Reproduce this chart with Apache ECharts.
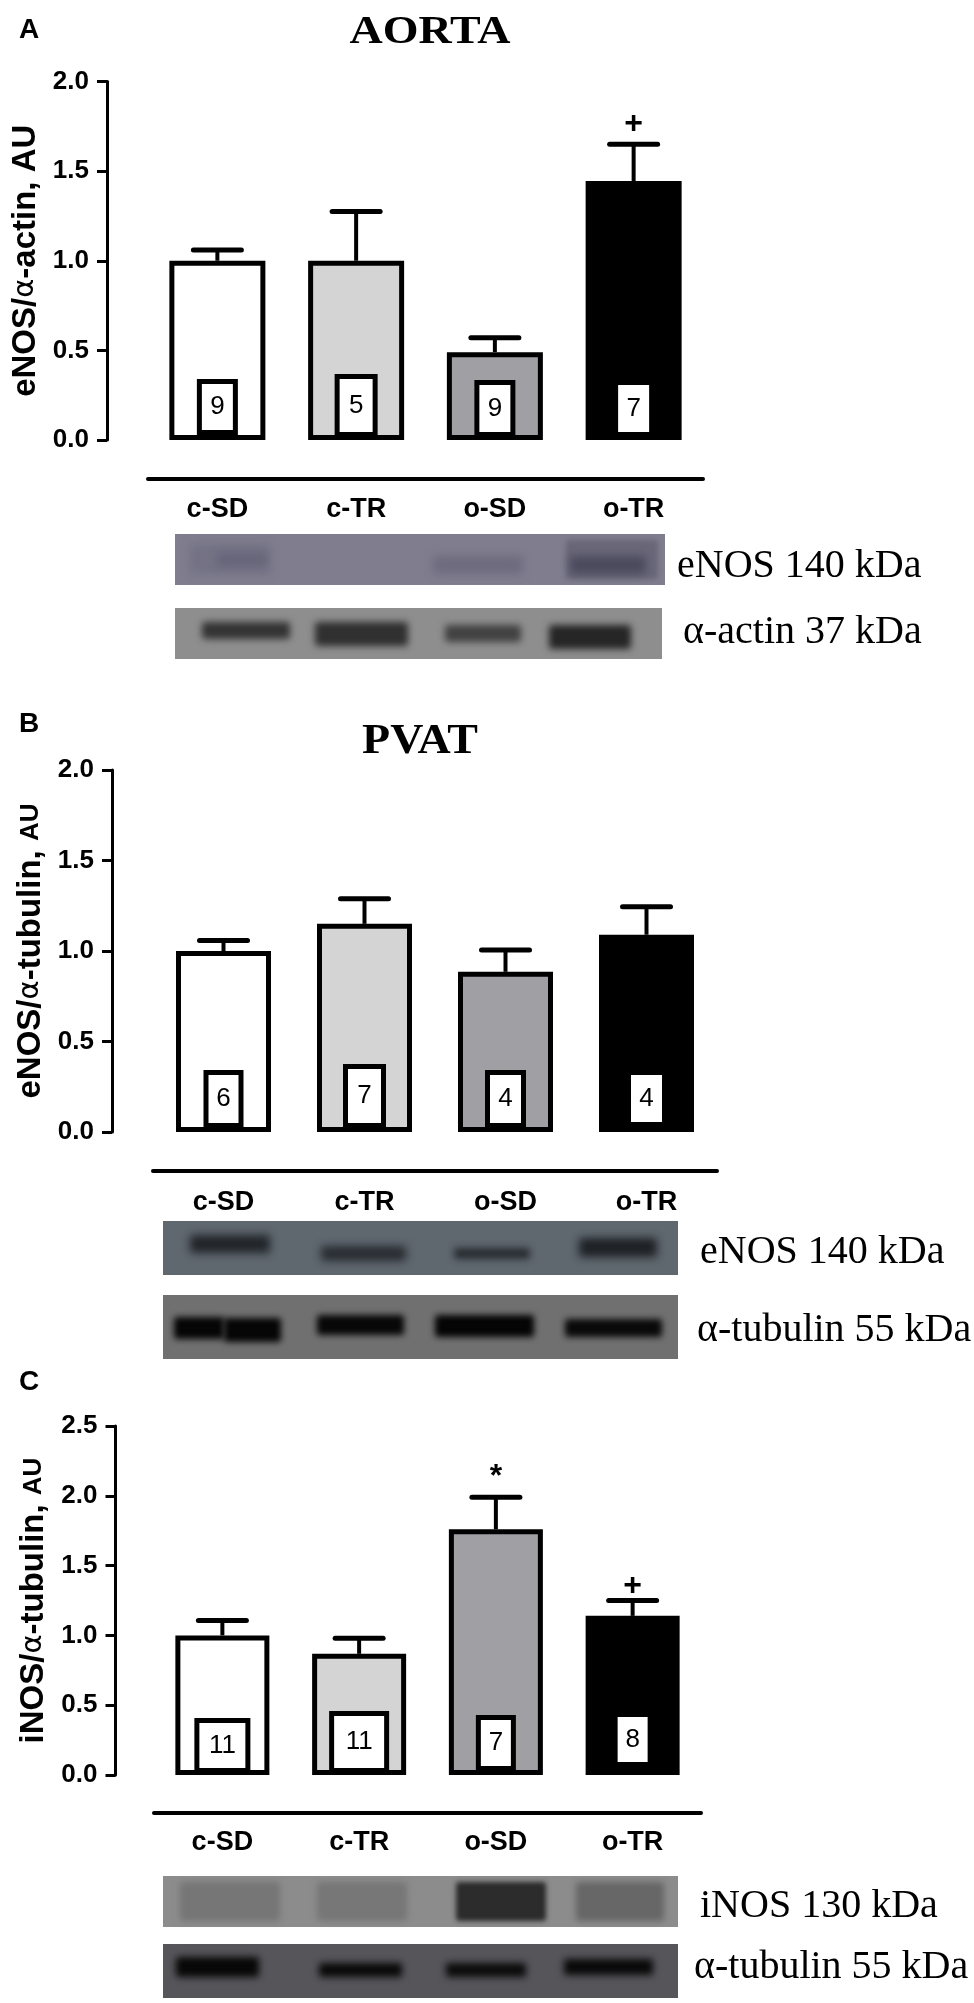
<!DOCTYPE html>
<html><head><meta charset="utf-8">
<style>html,body{margin:0;padding:0;background:#fff}#c{width:974px;height:2003px}</style>
<script src="https://cdn.jsdelivr.net/npm/echarts@6/dist/echarts.min.js"></script>
</head><body><div id="c"></div>
<script>
const categories = ['c-SD','c-TR','o-SD','o-TR'];
const aortaMeans = [1.0,1.0,0.49,1.445];
const aortaErrTops = [1.06,1.275,0.57,1.65];
const aortaN = [9,5,9,7];
const aortaMarks = ['','','','+'];
const aortaMarkValues = [null,null,null,1.76];
const pvatMeans = [1.0,1.15,0.885,1.09];
const pvatErrTops = [1.058,1.288,1.005,1.245];
const pvatN = [6,7,4,4];
const inosMeans = [1.0,0.868,1.76,1.14];
const inosErrTops = [1.106,0.98,1.99,1.25];
const inosN = [11,11,7,8];
const inosMarks = ['','','*','+'];
const inosMarkValues = [null,null,2.13,1.355];

const fills = ['#ffffff','#d4d4d4','#a09fa4','#000000'];
const SANS = '"Liberation Sans",sans-serif';
const SERIF = '"Liberation Serif",serif';

const panels = [
 {means:aortaMeans,tops:aortaErrTops,n:aortaN,marks:aortaMarks,markVals:aortaMarkValues,
  left:148,width:555,top:81.5,height:358.5,max:2,yOff:41,xOff:39,nameGap:65,barW:96,xMargin:17,
  name:'eNOS/{a|α}-actin, AU',nameSize:33,
  boxes:[[31,46,10],[33,53,8],[31,47,8],[31,47,8]]},
 {means:pvatMeans,tops:pvatErrTops,n:pvatN,marks:['','','',''],markVals:[null,null,null,null],
  left:153,width:564,top:770,height:362,max:2,yOff:41,xOff:39,nameGap:64,barW:95,xMargin:18,
  name:'eNOS/{a|α}-tubulin, {s|AU}',nameSize:33,
  boxes:[[30,48,9],[33,54,9],[31,48,9],[31,47,10]]},
 {means:inosMeans,tops:inosErrTops,n:inosN,marks:inosMarks,markVals:inosMarkValues,
  left:154,width:547,top:1426,height:349,max:2.5,yOff:38.5,xOff:38,nameGap:64,barW:94,xMargin:16,
  name:'iNOS/{a|α}-tubulin, {s|AU}',nameSize:33,
  boxes:[[46,45,7],[50,52,7],[30,46,9],[30,45,13]]}
];

const grid=[],xAxis=[],yAxis=[],series=[];
panels.forEach((p,i)=>{
  grid.push({left:p.left,width:p.width,top:p.top,height:p.height});
  xAxis.push({type:'category',gridIndex:i,data:categories,offset:p.xOff,
    axisLine:{onZero:false,lineStyle:{color:'#000',width:4}},
    axisTick:{alignWithLabel:true,length:11,lineStyle:{color:'#000',width:3}},
    axisLabel:{color:'#000',fontFamily:SANS,fontWeight:'bold',fontSize:27,margin:p.xMargin,interval:0}});
  yAxis.push({type:'value',gridIndex:i,min:0,max:p.max,interval:0.5,offset:p.yOff,
    name:p.name,nameLocation:'middle',nameGap:p.nameGap,
    nameTextStyle:{color:'#000',fontFamily:SANS,fontWeight:'bold',fontSize:p.nameSize,
      rich:{a:{fontFamily:'"DejaVu Sans",sans-serif',fontWeight:'normal',fontSize:p.nameSize-4,color:'#000'},
            s:{fontFamily:SANS,fontWeight:'bold',fontSize:p.nameSize-7,color:'#000'}}},
    splitLine:{show:false},
    axisLine:{show:true,onZero:false,lineStyle:{color:'#000',width:3}},
    axisTick:{show:true,length:10,lineStyle:{color:'#000',width:3}},
    axisLabel:{color:'#000',fontFamily:SANS,fontWeight:'bold',fontSize:26,margin:18,
      formatter:v=>v.toFixed(1)}});
  series.push({type:'bar',xAxisIndex:i,yAxisIndex:i,barWidth:p.barW,z:3,
    data:p.means.map((v,k)=>({value:v,
      itemStyle:{color:fills[k],borderColor:'#000',borderWidth:5,borderJoin:'miter'},
      label:{show:true,position:'insideBottom',distance:p.boxes[k][2],formatter:String(p.n[k]),
        color:'#000',fontFamily:SANS,fontSize:26,
        width:p.boxes[k][0],height:p.boxes[k][1],lineHeight:p.boxes[k][1],
        backgroundColor:'#fff',borderColor:'#000',borderWidth:5}}))});
  series.push({type:'custom',xAxisIndex:i,yAxisIndex:i,z:2,silent:true,
    data:p.means.map((v,k)=>[k,v,p.tops[k]]),
    renderItem:(params,api)=>{
      const a=api.coord([api.value(0),api.value(1)]),b=api.coord([api.value(0),api.value(2)]);
      const st={stroke:'#000',lineWidth:4,fill:null};
      return {type:'group',children:[
        {type:'line',shape:{x1:a[0],y1:a[1],x2:b[0],y2:b[1]},style:st},
        {type:'line',shape:{x1:b[0]-24,y1:b[1],x2:b[0]+24,y2:b[1]},style:{stroke:'#000',lineWidth:5,lineCap:'round'}}
      ]};
    }});
  series.push({type:'custom',xAxisIndex:i,yAxisIndex:i,z:4,silent:true,
    data:p.marks.map((m,k)=>[k,p.markVals[k],m]).filter(d=>d[2]),
    renderItem:(params,api)=>{
      const c=api.coord([api.value(0),api.value(1)]);
      return {type:'text',style:{x:c[0],y:c[1],text:p.marks[api.value(0)],align:'center',verticalAlign:'middle',
        fill:'#000',font:'bold 32px '+SANS}};
    }});
});

/* decorative western-blot strips: only the blurred shadow of each band is visible */
function blot(x,y,w,h,bg,shapes){
  const out=[{type:'rect',shape:{x,y,width:w,height:h},style:{fill:bg},z:1}];
  shapes.forEach((s,idx)=>out.push({type:'rect',z:2+idx,shape:{x:s[0]-3000,y:s[1],width:s[2],height:s[3],r:3},
    style:{fill:s[4],shadowColor:s[4],shadowOffsetX:3000,shadowBlur:s[5]||8}}));
  return out;
}
function label(text,x,y,size){
  return {type:'text',x,y,z:30,style:{text,x:0,y:0,align:'left',verticalAlign:'middle',fill:'#000',font:size+'px '+SERIF}};
}
function head(text,x,y,size,sy){
  return {type:'text',x,y,scaleY:sy,z:30,style:{text,x:0,y:0,align:'center',verticalAlign:'middle',fill:'#000',font:'bold '+size+'px '+SERIF}};
}
function letter(text,x,y){
  return {type:'text',x,y,z:30,style:{text,x:0,y:0,align:'center',verticalAlign:'middle',fill:'#000',font:'bold 28px '+SANS}};
}
const graphic=[
 ...blot(175,534,490,51,'#7f7d8e',[[566,540,92,39,'#696778',5],[190,544,80,30,'#747284',8],[217,553,50,13,'#67657a',9],[433,556,90,18,'#6e6c7e',9],[570,556,76,18,'#4c4a5e',8]]),
 ...blot(175,608,487,51,'#8e8e8e',[[202,622,88,17,'#343434',7],[315,622,93,24,'#303030',7],[445,625,76,17,'#424242',7],[549,625,82,24,'#262626',7]]),
 ...blot(163,1221,515,54,'#5f676f',[[190,1235,80,18,'#22262b',8],[321,1246,85,15,'#292d32',8],[454,1248,76,11,'#292d32',7],[579,1238,78,19,'#1e2226',8]]),
 ...blot(163,1295,515,64,'#707070',[[174,1317,50,22,'#060606',6],[224,1318,57,24,'#060606',6],[317,1315,87,20,'#080808',6],[435,1315,99,22,'#050505',6],[565,1319,97,18,'#0a0a0a',6]]),
 ...blot(163,1876,515,51,'#8c8c8c',[[180,1882,100,39,'#767676',6],[317,1882,90,39,'#777777',6],[456,1882,90,39,'#2c2c2c',5],[576,1882,88,39,'#676767',6]]),
 ...blot(163,1944,515,54,'#55555a',[[176,1957,83,20,'#080808',7],[319,1963,83,14,'#0a0a0a',7],[446,1963,80,14,'#0c0c0c',7],[564,1959,89,16,'#0a0a0a',7]]),
 label('eNOS 140 kDa',677,566,40),
 label('α-actin 37 kDa',683,632,40),
 label('eNOS 140 kDa',700,1252,40),
 label('α-tubulin 55 kDa',697,1330,40),
 label('iNOS 130 kDa',700,1906,40),
 label('α-tubulin 55 kDa',694,1967,40),
 head('AORTA',430,32,46,0.89),
 head('PVAT',420,742,46,0.9),
 letter('A',29,30),letter('B',29,724),letter('C',29,1382)
];

const chart=echarts.init(document.getElementById('c'),null,{renderer:'canvas'});
chart.setOption({animation:false,backgroundColor:'#fff',grid,xAxis,yAxis,series,graphic});
</script></body></html>
